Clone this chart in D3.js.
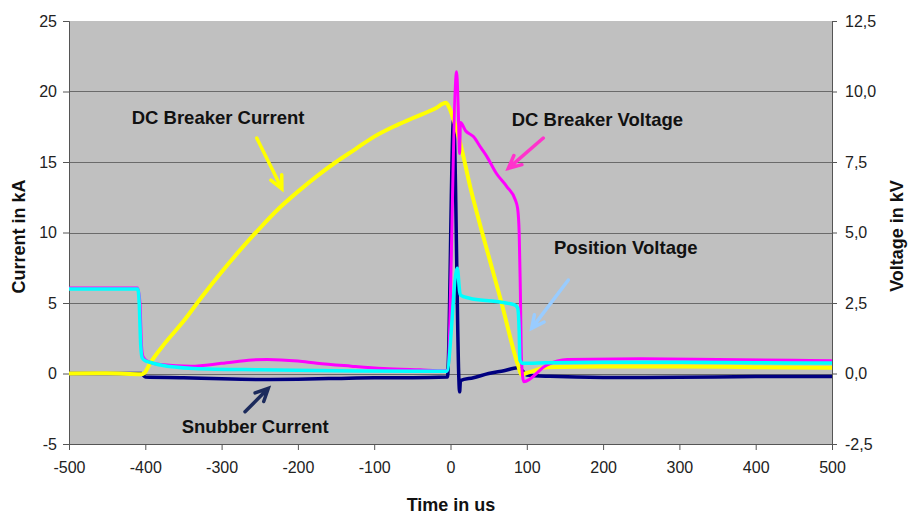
<!DOCTYPE html>
<html><head><meta charset="utf-8">
<script src="https://cdn.jsdelivr.net/npm/d3@7/dist/d3.min.js"></script>
<style>
html,body{margin:0;padding:0;background:#fff;}
svg text{font-family:"Liberation Sans",Arial,sans-serif;}
</style></head>
<body>
<svg id="chart" width="909" height="516"></svg>
<script>
// ---- data ----
const timeTicks = [-500,-400,-300,-200,-100,0,100,200,300,400,500];
const currentTicks = [-5,0,5,10,15,20,25];
const voltageTicks = [-2.5,0,2.5,5,7.5,10,12.5];

// DC breaker current [time us, kA]
const breakerCurrent = [[-500,0],[-450,0.02],[-405,-0.05],[-401,0.05],[-394,0.7],[-375,2.1],[-350,3.7],[-325,5.5],[-300,7.2],[-275,8.8],[-250,10.3],[-225,11.7],[-200,12.9],[-175,14.0],[-150,15.0],[-125,15.9],[-100,16.8],[-75,17.5],[-50,18.1],[-20,18.8],[-6,19.2],[-2,18.9],[4,18.0],[13,16.3],[26,13.2],[42,9.9],[66,5.2],[89,0.5],[93,-0.1],[98,0.0],[110,0.2],[125,0.45],[200,0.5],[300,0.5],[400,0.45],[500,0.4]];
// Snubber current [time us, kA]
const snubberCurrent = [[-500,0],[-405,0],[-400,-0.25],[-350,-0.3],[-300,-0.38],[-250,-0.42],[-200,-0.4],[-150,-0.35],[-100,-0.3],[-50,-0.3],[-4,-0.25],[4,18.0],[12,-1.3],[13,-0.5],[30,-0.3],[50,0.0],[70,0.2],[88,0.4],[94,0.2],[100,-0.1],[130,-0.2],[200,-0.28],[300,-0.27],[400,-0.22],[500,-0.22]];
// DC breaker voltage [time us, kV]
const breakerVoltage = [[-500,3.03],[-410,3.03],[-407,2.5],[-405,1.0],[-403,0.6],[-398,0.45],[-380,0.32],[-340,0.26],[-300,0.36],[-260,0.48],[-240,0.5],[-200,0.44],[-175,0.36],[-130,0.26],[-88,0.18],[-40,0.13],[-8,0.1],[-4,0.12],[8,10.7],[10,9.5],[12,7.8],[13,8.9],[20,8.6],[30,8.4],[40,8.0],[47.5,7.7],[60,7.1],[74,6.62],[85,6.15],[88,5.85],[90,5.0],[91.5,3.0],[93,0.5],[96,-0.29],[126,0.3],[153,0.5],[250,0.52],[350,0.5],[450,0.47],[500,0.45]];
// Position voltage [time us, kV]
const positionVoltage = [[-500,3.0],[-410,3.0],[-408,2.5],[-406,1.0],[-404,0.55],[-400,0.45],[-394,0.4],[-380,0.3],[-337,0.18],[-250,0.13],[-150,0.1],[-50,0.08],[-5,0.08],[9,3.73],[12,2.9],[13,2.78],[25,2.67],[60,2.55],[84,2.43],[88,2.32],[90,1.5],[91,0.48],[95,0.36],[126,0.38],[200,0.4],[300,0.4],[400,0.38],[500,0.37]];

// annotations: label text, anchor [t, kA], arrow from [t,kA] to [t,kA]
const labelTexts = ["DC Breaker Current","DC Breaker Voltage","Position Voltage","Snubber Current"];
const labelAnchors = [[-417.8,17.7],[80.2,17.55],[135.6,8.47],[-352.3,-4.22]];
const arrowFrom = [[-254,16.7],[121.6,16.7],[154.4,6.63],[-269.3,-2.71]];
const arrowTo = [[-221,13.1],[75.8,14.55],[106.4,3.2],[-238.8,-1.05]];
const arrowColors = ["#ffff00","#ff33cc","#99ccff","#1c2b5c"];

// ---- layout ----
const L = 69, R = 832, T = 21, B = 444;
const svg = d3.select("#chart");
const x = d3.scaleLinear().domain([-500,500]).range([L,R]);
const yL = d3.scaleLinear().domain([-5,25]).range([B,T]);
const yR = d3.scaleLinear().domain([-2.5,12.5]).range([B,T]);

svg.append("rect").attr("x",L).attr("y",T).attr("width",R-L).attr("height",B-T).attr("fill","#c0c0c0");

// gridlines
svg.append("g").selectAll("line").data(currentTicks.filter(d=>d>-5 && d<25)).join("line")
  .attr("x1",L).attr("x2",R).attr("y1",d=>Math.round(yL(d))+0.5).attr("y2",d=>Math.round(yL(d))+0.5)
  .attr("stroke","#6a6a6a").attr("stroke-width",1);

const fmtComma = d => d3.format(".1f")(d).replace(".",",").replace("\u2212","-");

const axL = svg.append("g").attr("transform",`translate(${L},0)`)
  .call(d3.axisLeft(yL).tickValues(currentTicks).tickFormat(d=>String(d)).tickSize(6).tickPadding(6));
const axR = svg.append("g").attr("transform",`translate(${R},0)`)
  .call(d3.axisRight(yR).tickValues(voltageTicks).tickFormat(fmtComma).tickSize(5).tickPadding(8));
const axB = svg.append("g").attr("transform",`translate(0,${B})`)
  .call(d3.axisBottom(x).tickValues(timeTicks).tickFormat(d=>String(d)).tickSize(6).tickPadding(12));
[axL,axR,axB].forEach(a=>{
  a.select(".domain").attr("stroke","#555");
  a.selectAll(".tick line").attr("stroke","#555");
  a.selectAll(".tick text").attr("fill","#222").style("font-size","16px").style("font-family","'Liberation Sans',Arial,sans-serif");
});

// clip
svg.append("clipPath").attr("id","plotclip").append("rect").attr("x",L).attr("y",T).attr("width",R-L).attr("height",B-T);
const plot = svg.append("g").attr("clip-path","url(#plotclip)");

const lineL = d3.line().x(d=>x(d[0])).y(d=>yL(d[1])).curve(d3.curveMonotoneX);
const lineR = d3.line().x(d=>x(d[0])).y(d=>yR(d[1])).curve(d3.curveMonotoneX);

plot.append("path").datum(snubberCurrent).attr("d",lineL).attr("fill","none").attr("stroke","#000080").attr("stroke-width",3.5).attr("stroke-linejoin","round");
plot.append("path").datum(breakerCurrent).attr("d",lineL).attr("fill","none").attr("stroke","#ffff00").attr("stroke-width",4).attr("stroke-linejoin","round");
plot.append("path").datum(breakerVoltage).attr("d",lineR).attr("fill","none").attr("stroke","#ff00ff").attr("stroke-width",3).attr("stroke-linejoin","round");
plot.append("path").datum(positionVoltage).attr("d",lineR).attr("fill","none").attr("stroke","#00ffff").attr("stroke-width",3.5).attr("stroke-linejoin","round");

// annotations
const ann = svg.append("g");
labelTexts.forEach((t,i)=>{
  ann.append("text").attr("x",x(labelAnchors[i][0])).attr("y",yL(labelAnchors[i][1]))
    .attr("fill","#111").style("font-size","18.5px").style("font-weight","bold").text(t);
  const x0=x(arrowFrom[i][0]), y0=yL(arrowFrom[i][1]), x1=x(arrowTo[i][0]), y1=yL(arrowTo[i][1]);
  const ang=Math.atan2(y1-y0,x1-x0), hl=14, ha=0.45;
  const p=d3.path();
  p.moveTo(x0,y0); p.lineTo(x1,y1);
  p.moveTo(x1-hl*Math.cos(ang-ha), y1-hl*Math.sin(ang-ha)); p.lineTo(x1,y1);
  p.lineTo(x1-hl*Math.cos(ang+ha), y1-hl*Math.sin(ang+ha));
  ann.append("path").attr("d",p.toString()).attr("fill","none").attr("stroke",arrowColors[i])
    .attr("stroke-width",3.5).attr("stroke-linecap","round").attr("stroke-linejoin","miter");
});

// axis titles
svg.append("text").attr("transform",`translate(25,236.5) rotate(-90)`).attr("text-anchor","middle")
  .style("font-size","18px").style("font-weight","bold").attr("fill","#111").text("Current in kA");
svg.append("text").attr("transform",`translate(903,236) rotate(-90)`).attr("text-anchor","middle")
  .style("font-size","18px").style("font-weight","bold").attr("fill","#111").text("Voltage in kV");
svg.append("text").attr("x",451).attr("y",511).attr("text-anchor","middle")
  .style("font-size","18px").style("font-weight","bold").attr("fill","#111").text("Time in us");
</script>
</body></html>
